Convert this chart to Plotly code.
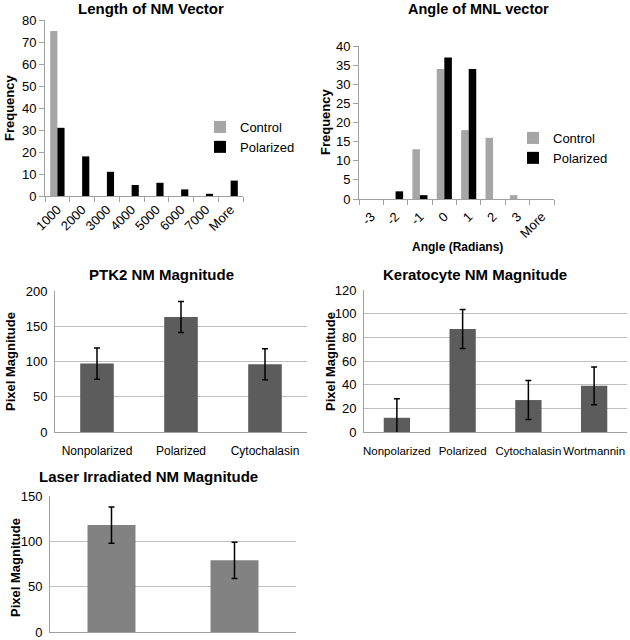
import plotly.graph_objects as go

W, H = 630, 640

# ---- data ----
len_cats = ["1000", "2000", "3000", "4000", "5000", "6000", "7000", "More"]
len_control = [75, 0, 0, 0, 0, 0, 0, 0]
len_polarized = [31, 18, 11, 5, 6, 3, 1, 7]

ang_cats = ["-3", "-2", "-1", "0", "1", "2", "3", "More"]
ang_control = [0, 0, 13, 34, 18, 16, 1, 0]
ang_polarized = [0, 2, 1, 37, 34, 0, 0, 0]

ptk_cats = ["Nonpolarized", "Polarized", "Cytochalasin"]
ptk_vals = [97, 163, 96]
ptk_err = [22, 22, 22]

ker_cats = ["Nonpolarized", "Polarized", "Cytochalasin", "Wortmannin"]
ker_vals = [12, 87, 27, 39]
ker_err = [16, 16.5, 16.5, 16]

las_cats = ["A", "B"]
las_vals = [118, 79]
las_err = [20, 20]

FONT = "Liberation Sans, Arial, sans-serif"
C_CTRL = "#a6a6a6"
C_POL = "#000000"

def px_x(x):
    return x / W

def px_y(y):
    return 1 - y / H

fig = go.Figure()

# chart 1
fig.add_trace(go.Bar(x=len_cats, y=len_control, name="Control", marker_color=C_CTRL,
                     xaxis="x", yaxis="y", width=0.29, offset=-0.29, legend="legend"))
fig.add_trace(go.Bar(x=len_cats, y=len_polarized, name="Polarized", marker_color=C_POL,
                     xaxis="x", yaxis="y", width=0.29, offset=0, legend="legend"))
# chart 2
fig.add_trace(go.Bar(x=ang_cats, y=ang_control, name="Control", marker_color=C_CTRL,
                     xaxis="x2", yaxis="y2", width=0.31, offset=-0.31, legend="legend2"))
fig.add_trace(go.Bar(x=ang_cats, y=ang_polarized, name="Polarized", marker_color=C_POL,
                     xaxis="x2", yaxis="y2", width=0.31, offset=0, legend="legend2"))

err_style = dict(type="data", thickness=1.5, width=3, color="#000000")
fig.add_trace(go.Bar(x=ptk_cats, y=ptk_vals, marker_color="#5c5c5c", width=0.4, showlegend=False,
                     error_y=dict(array=ptk_err, **err_style), xaxis="x3", yaxis="y3"))
fig.add_trace(go.Bar(x=ker_cats, y=ker_vals, marker_color="#5c5c5c", width=0.4, showlegend=False,
                     error_y=dict(array=ker_err, **err_style), xaxis="x4", yaxis="y4"))
fig.add_trace(go.Bar(x=las_cats, y=las_vals, marker_color="#828282", width=0.39, showlegend=False,
                     error_y=dict(array=las_err, **err_style), xaxis="x5", yaxis="y5"))

tickfont = dict(family=FONT, size=13, color="#000000")
axcol = "#a0a0a0"

hist_x = dict(type="category", showline=True, linecolor=axcol, linewidth=1, ticks="outside",
              tickson="boundaries", ticklen=5, tickcolor=axcol, tickangle=-45,
              tickfont=tickfont, showgrid=False, fixedrange=True, automargin=False)
hist_y = dict(showline=True, linecolor=axcol, linewidth=1, ticks="outside", ticklen=5,
              tickcolor=axcol, tickfont=tickfont, showgrid=False, zeroline=False,
              fixedrange=True, automargin=False)
mag_x = dict(type="category", showline=True, linecolor=axcol, linewidth=1, ticks="",
             tickangle=0, showgrid=False, fixedrange=True, automargin=False,
             ticklabelstandoff=8)
mag_y = dict(showline=True, linecolor=axcol, linewidth=1, ticks="", tickfont=tickfont,
             showgrid=True, gridcolor="#bfbfbf", gridwidth=1, zeroline=False,
             fixedrange=True, automargin=False, ticklabelstandoff=4)

fig.update_layout(
    template="none",
    width=W, height=H, margin=dict(l=0, r=0, t=0, b=0, pad=0),
    paper_bgcolor="white", plot_bgcolor="white",
    barmode="group", bargap=0.6,
    font=dict(family=FONT, color="#000000"),
    xaxis=dict(domain=[px_x(45), px_x(243)], anchor="y", **hist_x),
    yaxis=dict(domain=[px_y(196), px_y(20)], anchor="x", range=[0, 80], dtick=10, **hist_y),
    xaxis2=dict(domain=[px_x(359), px_x(554)], anchor="y2", ticklabelstandoff=4, **hist_x),
    yaxis2=dict(domain=[px_y(199), px_y(46)], anchor="x2", range=[0, 40], dtick=5, **hist_y),
    xaxis3=dict(domain=[px_x(55), px_x(307)], anchor="y3",
                tickfont=dict(family=FONT, size=12, color="#000000"), **mag_x),
    yaxis3=dict(domain=[px_y(432), px_y(291)], anchor="x3", range=[0, 200], dtick=50, **mag_y),
    xaxis4=dict(domain=[px_x(364), px_x(627)], anchor="y4",
                tickfont=dict(family=FONT, size=11.5, color="#000000"), **mag_x),
    yaxis4=dict(domain=[px_y(432), px_y(290)], anchor="x4", range=[0, 120], dtick=20, **mag_y),
    xaxis5=dict(domain=[px_x(50), px_x(296)], anchor="y5", showticklabels=False, **mag_x),
    yaxis5=dict(domain=[px_y(632), px_y(496)], anchor="x5", range=[0, 150], dtick=50, **mag_y),
    legend=dict(x=px_x(200), y=px_y(112), xanchor="left", yanchor="top",
                font=dict(family=FONT, size=13), itemwidth=30, bgcolor="rgba(0,0,0,0)",
                tracegroupgap=4),
    legend2=dict(x=px_x(513), y=px_y(123), xanchor="left", yanchor="top",
                 font=dict(family=FONT, size=13), itemwidth=30, bgcolor="rgba(0,0,0,0)",
                 tracegroupgap=4),
)

def ann(text, x, y, size=15, bold=True, angle=0):
    fig.add_annotation(text=f"<b>{text}</b>" if bold else text, x=px_x(x), y=px_y(y),
                       xref="paper", yref="paper", showarrow=False, textangle=angle,
                       xanchor="center", yanchor="middle",
                       font=dict(family=FONT, size=size, color="#000000"))

ann("Length of NM Vector", 151, 9)
ann("Angle of MNL vector", 478, 9, size=14.5)
ann("PTK2 NM Magnitude", 162, 274)
ann("Keratocyte NM Magnitude", 475, 274)
ann("Laser Irradiated NM Magnitude", 148, 476)

ann("Frequency", 10, 108, size=13, angle=-90)
ann("Frequency", 325, 122, size=13, angle=-90)
ann("Angle (Radians)", 457, 247, size=12)
ann("Pixel Magnitude", 10, 362, size=13, angle=-90)
ann("Pixel Magnitude", 330, 362, size=13, angle=-90)
ann("Pixel Magnitude", 15, 568, size=13, angle=-90)

fig.write_html("out.html", config={"displayModeBar": False},
               post_script="document.body.style.margin='0';document.body.style.overflow='hidden';")
